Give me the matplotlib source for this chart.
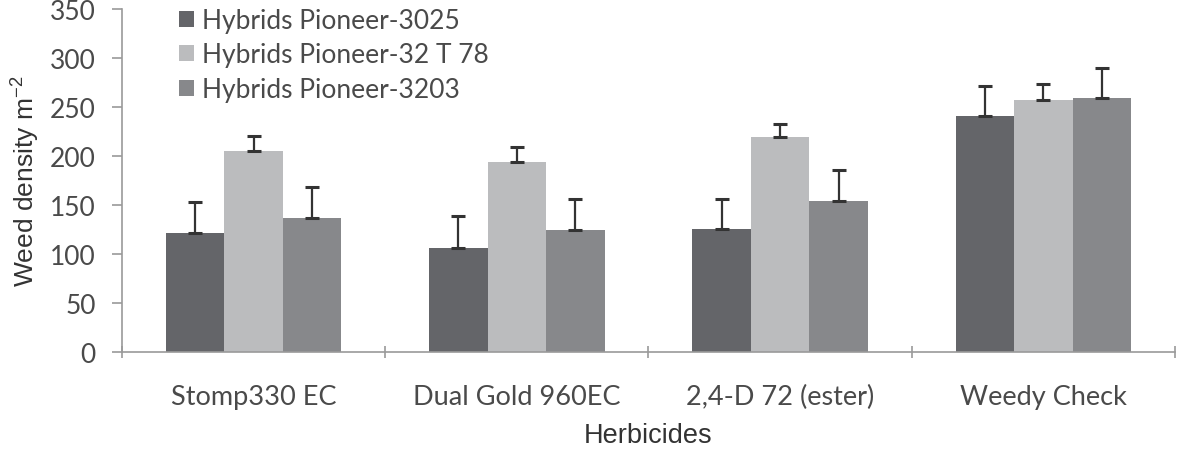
import numpy as np
import matplotlib
matplotlib.use('Agg')
from matplotlib import pyplot as plt

# Data
herbicides = ['Stomp330 EC', 'Dual Gold 960EC', '2,4-D 72 (ester)', 'Weedy Check']
hybrids = ['Hybrids Pioneer-3025', 'Hybrids Pioneer-32 T 78', 'Hybrids Pioneer-3203']

pioneer_3025 = [121, 106, 125, 241]
pioneer_32t78 = [205, 194, 219, 257]
pioneer_3203 = [137, 124, 154, 259]

err_3025 = [32, 33, 31, 30]
err_32t78 = [15, 15, 14, 16]
err_3203 = [31, 32, 32, 31]

y_ticks = [0, 50, 100, 150, 200, 250, 300, 350]

colors = ['#646569', '#bbbcbe', '#87888b']
tick_font = 'Lato'
label_font = 'Liberation Sans'
text_grey = '#4a4a4a'

plt.rcParams['mathtext.fontset'] = 'custom'
plt.rcParams['mathtext.rm'] = label_font

fig = plt.figure(figsize=(11.88, 4.52), dpi=100)
ax = fig.add_axes([0.1027, 0.219, 0.8863, 0.759])

x = np.arange(len(herbicides))
w = 0.222
series = [pioneer_3025, pioneer_32t78, pioneer_3203]
errors = [err_3025, err_32t78, err_3203]

for i, (vals, errs) in enumerate(zip(series, errors)):
    pos = x + (i - 1) * w
    ax.bar(pos, vals, width=w, color=colors[i], label=hybrids[i], zorder=2)
    ax.errorbar(pos, vals, yerr=[np.zeros(len(errs)), errs], fmt='none',
                ecolor='#333333', elinewidth=1.6, capsize=5, capthick=2.2, zorder=3)

ax.set_xlim(-0.5, len(herbicides) - 0.5)
ax.set_ylim(0, 350)
ax.set_yticks(y_ticks)
ax.set_yticklabels([str(t) for t in y_ticks], fontfamily=tick_font, fontsize=19, color=text_grey)

# category labels centred, tick marks between categories
ax.set_xticks(np.arange(len(herbicides) + 1) - 0.5)
ax.set_xticklabels([])
ax.set_xticks(x, minor=True)
ax.set_xticklabels(herbicides, minor=True, fontfamily=tick_font, fontsize=19.5, color=text_grey)
ax.tick_params(axis='x', which='minor', length=0, pad=23)
ax.tick_params(axis='x', which='major', length=8, color='#9a9a9a', width=1.2, direction='inout')
ax.tick_params(axis='y', length=7, color='#9a9a9a', width=1.2, pad=12)

for s in ['top', 'right']:
    ax.spines[s].set_visible(False)
for s in ['left', 'bottom']:
    ax.spines[s].set_color('#9a9a9a')
    ax.spines[s].set_linewidth(1.2)

ax.set_ylabel(r'Weed density m$^{\mathregular{-2}}$', fontfamily=label_font, fontsize=19,
              color='#333333', labelpad=6)
ax.set_xlabel('Herbicides', fontfamily=label_font, fontsize=19.5, color='#333333', labelpad=9)

leg = ax.legend(loc='upper left', bbox_to_anchor=(179 / 1188, 1 - 9 / 452), bbox_transform=fig.transFigure,
                frameon=False, prop={'family': tick_font, 'size': 19},
                handlelength=0.57, handleheight=0.57, handletextpad=0.3,
                labelspacing=0.36, borderaxespad=0, borderpad=0)
for t in leg.get_texts():
    t.set_color(text_grey)

fig.savefig('out.png', dpi=100)
